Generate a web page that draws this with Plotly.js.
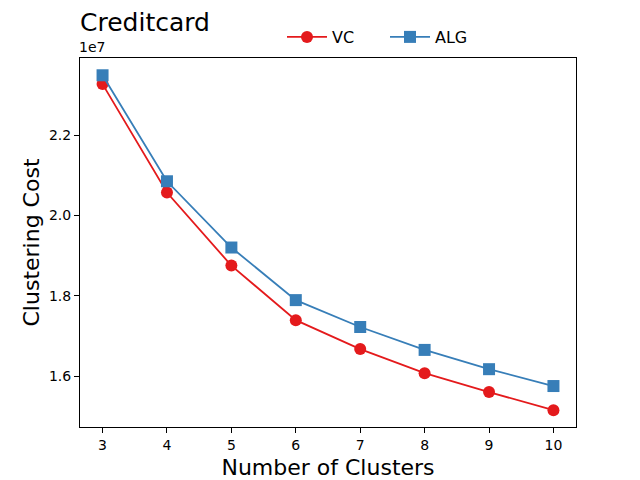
<!DOCTYPE html>
<html>
<head>
<meta charset="utf-8">
<script src="https://cdn.plot.ly/plotly-3.0.1.min.js"></script>
<style>html,body{margin:0;padding:0;background:#fff;}#chart{width:640px;height:480px;}</style>
</head>
<body>
<div id="chart"></div>
<script>
// Data (clustering cost in units of 1e7)
const clusters = [3, 4, 5, 6, 7, 8, 9, 10];
const vcCost  = [2.327, 2.057, 1.875, 1.739, 1.667, 1.607, 1.560, 1.515];
const algCost = [2.349, 2.085, 1.920, 1.789, 1.722, 1.665, 1.617, 1.575];
const yTickVals = [1.6, 1.8, 2.0, 2.2];
const yTickText = ['1.6', '1.8', '2.0', '2.2'];
const xTickVals = [3, 4, 5, 6, 7, 8, 9, 10];

const font = 'DejaVu Sans, sans-serif';

const traces = [
  {
    x: clusters, y: vcCost, name: 'VC', type: 'scatter', mode: 'lines+markers',
    line: {color: '#e41a1c', width: 1.8},
    marker: {symbol: 'circle', size: 12, color: '#e41a1c'}
  },
  {
    x: clusters, y: algCost, name: 'ALG', type: 'scatter', mode: 'lines+markers',
    line: {color: '#377eb8', width: 1.8},
    marker: {symbol: 'square', size: 12, color: '#377eb8'}
  }
];

const layout = {
  width: 640, height: 480,
  margin: {l: 80, r: 64, t: 58, b: 53},
  paper_bgcolor: '#fff', plot_bgcolor: '#fff',
  font: {family: font, color: '#000'},
  showlegend: true,
  title: {
    text: 'Creditcard', x: 0, xanchor: 'left', xref: 'paper',
    y: 1 - 22/480, yanchor: 'middle',
    font: {family: font, size: 25, color: '#000'}
  },
  legend: {
    orientation: 'h', x: 202/496, xanchor: 'left', y: 1 + 21/369, yanchor: 'middle',
    itemwidth: 40, entrywidth: 48, entrywidthmode: 'pixels',
    font: {family: font, size: 16, color: '#000'}, bgcolor: 'rgba(0,0,0,0)'
  },
  xaxis: {
    range: [2.65, 10.35], tickvals: xTickVals, ticks: 'outside', ticklen: 5, tickwidth: 1,
    tickcolor: '#000', showgrid: false, zeroline: false,
    showline: true, linecolor: '#000', linewidth: 1, mirror: true,
    tickfont: {family: font, size: 14, color: '#000'},
    title: {text: 'Number of Clusters', font: {family: font, size: 22, color: '#000'}, standoff: 8}
  },
  yaxis: {
    range: [1.473, 2.392], tickvals: yTickVals, ticktext: yTickText, ticks: 'outside', ticklen: 5, tickwidth: 1,
    tickcolor: '#000', showgrid: false, zeroline: false,
    showline: true, linecolor: '#000', linewidth: 1, mirror: true,
    tickfont: {family: font, size: 14, color: '#000'},
    title: {text: 'Clustering Cost', font: {family: font, size: 22, color: '#000'}, standoff: 3}
  },
  annotations: [{
    text: '1e7', xref: 'paper', yref: 'paper', x: 0, y: 1, xanchor: 'left', yanchor: 'bottom',
    yshift: 1, xshift: -3, showarrow: false, font: {family: font, size: 14, color: '#000'}
  }]
};

Plotly.newPlot('chart', traces, layout, {displayModeBar: false, staticPlot: true});
</script>
</body>
</html>
